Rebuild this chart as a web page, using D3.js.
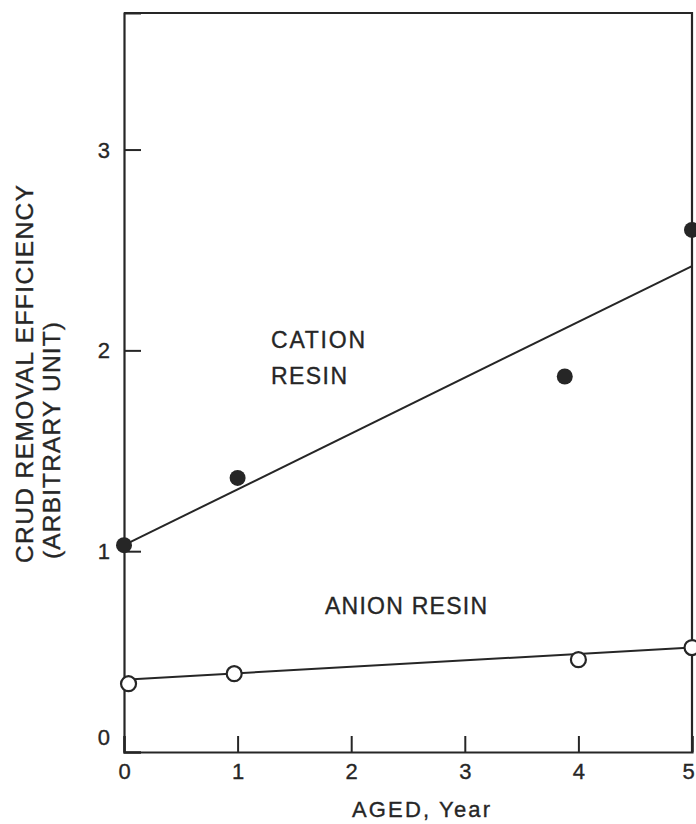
<!DOCTYPE html>
<html>
<head>
<meta charset="utf-8">
<script src="https://cdn.jsdelivr.net/npm/d3@7"></script>
<style>
  body { margin: 0; background: #fff; }
  text { font-family: "Liberation Sans", Arial, Helvetica, sans-serif; fill: #262626; stroke: #262626; stroke-width: 0.35px; }
</style>
</head>
<body>
<div id="chart"></div>
<script>
// values
const xTicks = [0, 1, 2, 3, 4, 5];
const yTicks = [0, 1, 2, 3];

const cationYears = [0, 1, 3.88, 5];
const cationValues = [1.03, 1.365, 1.87, 2.60];
const cationFitYears = [0, 5];
const cationFitValues = [1.03, 2.42];

const anionYears = [0.04, 0.97, 4, 5];
const anionValues = [0.34, 0.39, 0.46, 0.52];
const anionFitYears = [0, 5];
const anionFitValues = [0.36, 0.52];

const ink = '#262626';
const W = 696, H = 824;
const margin = { top: 13, right: 4, bottom: 72, left: 124 };
const width = W - margin.left - margin.right;
const height = H - margin.top - margin.bottom;

const svg = d3.select('#chart').append('svg')
    .attr('width', W)
    .attr('height', H);

const g = svg.append('g')
    .attr('transform', 'translate(' + margin.left + ',' + margin.top + ')');

const x = d3.scaleLinear().domain([0, 5]).range([0, width]);
const y = d3.scaleLinear().domain([0, 3.68]).range([height, 0]);

// frame top and right
g.append('path')
    .attr('d', 'M0,0H' + width + 'V' + height)
    .attr('fill', 'none')
    .attr('stroke', ink)
    .attr('stroke-width', 2.2);

// Y axis, ticks pointing in
const yAxis = g.append('g')
    .call(d3.axisLeft(y).tickValues(yTicks).tickSize(-17).tickPadding(14).tickFormat(d3.format('d')));
yAxis.selectAll('text')
    .style('font-size', '22px')
    .attr('dy', d => d === 0 ? '-0.35em' : '0.34em');

// X axis
const xAxis = g.append('g')
    .attr('transform', 'translate(0,' + height + ')')
    .call(d3.axisBottom(x).tickValues(xTicks).tickSize(-16).tickPadding(11).tickFormat(d3.format('d')));
xAxis.selectAll('text')
    .style('font-size', '22px')
    .attr('dx', d => d === 5 ? '-4' : '0');

[yAxis, xAxis].forEach(a => {
    a.select('.domain').attr('stroke', ink).attr('stroke-width', 2.2);
    a.selectAll('.tick line').attr('stroke', ink).attr('stroke-width', 2);
    a.selectAll('text').attr('fill', ink);
});

// fitted lines
const line = d3.line().x(d => x(d[0])).y(d => y(d[1]));
const fits = [
    d3.zip(cationFitYears, cationFitValues),
    d3.zip(anionFitYears, anionFitValues)
];
g.selectAll('path.fit')
    .data(fits)
    .enter()
    .append('path')
    .attr('class', 'fit')
    .attr('d', line)
    .attr('fill', 'none')
    .attr('stroke', ink)
    .attr('stroke-width', 2);

// cation points (filled)
g.selectAll('circle.cation')
    .data(d3.zip(cationYears, cationValues))
    .enter()
    .append('circle')
    .attr('class', 'cation')
    .attr('cx', d => x(d[0]))
    .attr('cy', d => y(d[1]))
    .attr('r', 8)
    .attr('fill', ink);

// anion points (open)
g.selectAll('circle.anion')
    .data(d3.zip(anionYears, anionValues))
    .enter()
    .append('circle')
    .attr('class', 'anion')
    .attr('cx', d => x(d[0]))
    .attr('cy', d => y(d[1]))
    .attr('r', 7.5)
    .attr('fill', '#fff')
    .attr('stroke', ink)
    .attr('stroke-width', 2.2);

// in-plot labels
const label = (txt, px, py, len) => {
    svg.append('text')
        .attr('x', px)
        .attr('y', py)
        .attr('textLength', len)
        .style('font-size', '23px')
        .text(txt);
};
label('CATION', 271, 348, 94);
label('RESIN', 271, 384, 76);
label('ANION RESIN', 325, 614, 162);

// axis titles
svg.append('text')
    .attr('x', 352)
    .attr('y', 817)
    .attr('textLength', 138)
    .style('font-size', '22px')
    .text('AGED, Year');

svg.append('text')
    .attr('transform', 'translate(33,563) rotate(-90)')
    .attr('textLength', 378)
    .style('font-size', '24.5px')
    .text('CRUD REMOVAL EFFICIENCY');

svg.append('text')
    .attr('transform', 'translate(60,559) rotate(-90)')
    .attr('textLength', 237)
    .style('font-size', '24.5px')
    .text('(ARBITRARY UNIT)');
</script>
</body>
</html>
